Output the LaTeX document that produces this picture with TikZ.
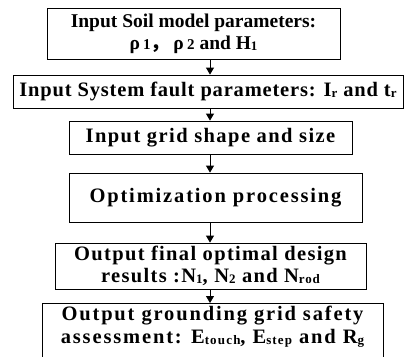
\documentclass[tikz,border=0pt]{standalone}
\usepackage{fontspec}
\setmainfont{Liberation Serif}
\newfontfamily\cjkfont{Noto Sans CJK SC}
\usetikzlibrary{arrows.meta}

% small lowered index, as in H1, Ir, Nrod
\newcommand\lowidx[1]{\raisebox{-1pt}{\fontsize{13}{13}\selectfont #1}}

\begin{document}
\begin{tikzpicture}[x=1pt,y=1pt,
  box/.style={draw, line width=0.8pt, align=center, inner sep=0pt,
    font=\fontsize{20.5}{22.5}\selectfont\bfseries},
  spaced/.style={font=\fontsize{20.5}{22.5}\selectfont\bfseries\addfontfeatures{LetterSpace=#1}},
  flow/.style={-{Triangle[width=8pt,length=7pt]}, line width=0.8pt}]
\useasboundingbox (0,0) rectangle (404,-356);
\clip (0,0) rectangle (404,-356);

\node[box, font=\fontsize{19.5}{22}\selectfont\bfseries, minimum width=293, minimum height=51] (soil) at (193.5,-33.5)
  {Input Soil model parameters:\\ ρ\,{\fontsize{15}{15}\selectfont 1}{\cjkfont ，}\,ρ\,{\fontsize{15}{15}\selectfont 2} and H\lowidx{1}};
\node[box, spaced=4, minimum width=390, minimum height=33] (fault) at (208,-91.5)
  {Input System fault parameters: I\lowidx{r} and t\lowidx{r}};
\node[box, spaced=7, minimum width=283, minimum height=33] (grid) at (210.5,-137.5)
  {Input grid shape and size};
\node[box, spaced=9, minimum width=293, minimum height=49] (optim) at (215.5,-197.5)
  {Optimization processing};
\node[box, spaced=6.5, minimum width=311, minimum height=46] (result) at (210.5,-266)
  {Output final optimal design\\ results :N\lowidx{1}, N\lowidx{2} and N\lowidx{rod}};
\node[box, spaced=9, minimum width=341, anchor=north, inner ysep=3pt, text depth=30pt] (safety) at (212.5,-303)
  {Output grounding grid safety\\ assessment: E\lowidx{touch}, E\lowidx{step} and R\lowidx{g}};

% arrows all run down one vertical line
\coordinate (spine) at (210,0);
\draw[flow] (soil.south -| spine) -- (fault.north -| spine);
\draw[flow] (fault.south -| spine) -- (grid.north -| spine);
\draw[flow] (grid.south -| spine) -- (optim.north -| spine);
\draw[flow] (optim.south -| spine) -- (result.north -| spine);
\draw[flow] (result.south -| spine) -- (safety.north -| spine);

\end{tikzpicture}
\end{document}
